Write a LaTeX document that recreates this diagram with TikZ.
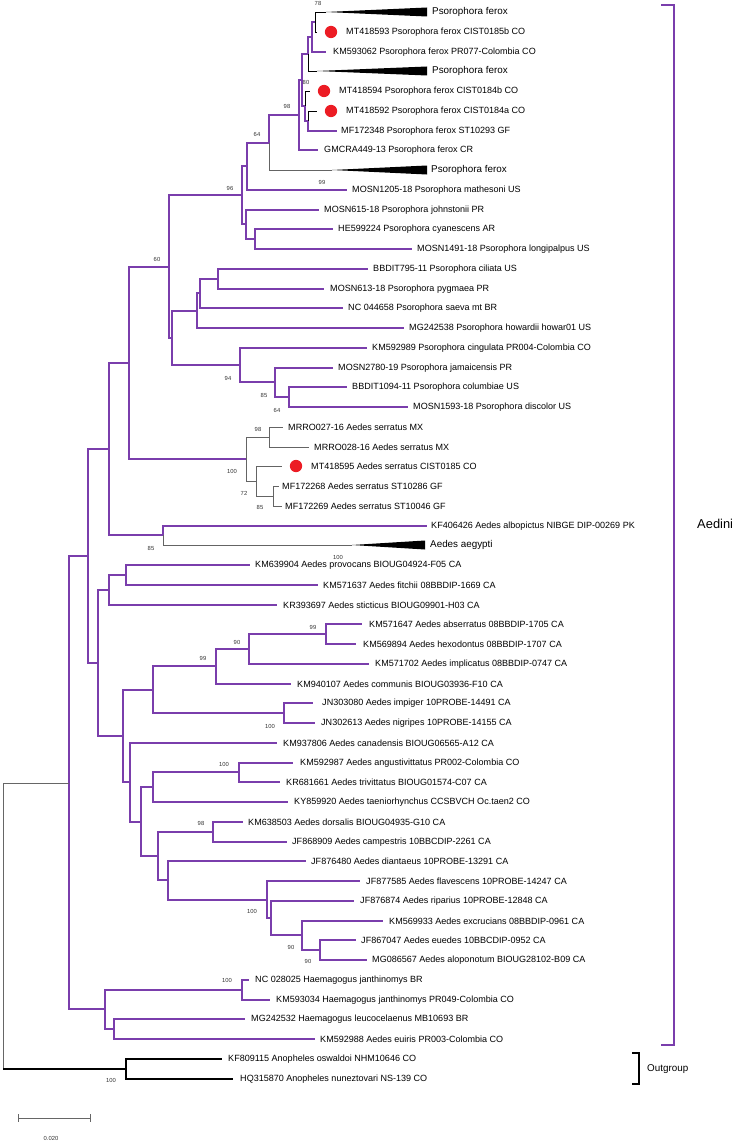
\documentclass[tikz,border=0pt]{standalone}
\usepackage{fontspec}
\setmainfont{Liberation Sans}
\definecolor{ramamorada}{RGB}{122,62,172}
\definecolor{ramagris}{RGB}{100,100,100}
\definecolor{puntorojo}{RGB}{236,28,36}
\begin{document}
\begin{tikzpicture}[
  x = 0.3mm, y = -0.3mm,
  rama/.style = {draw = ramamorada, line width = 1.6},
  ramanegra/.style = {draw = black, line width = 0.8},
  ramagrisx/.style = {draw = ramagris, line width = 0.8},
  raiz/.style = {draw = black!60, line width = 0.8},
  externo/.style = {draw = black, line width = 1.1},
  hoja/.style = {anchor = west, inner sep = 0, font = \fontsize{7.7}{9}\selectfont},
  clado/.style = {anchor = west, inner sep = 0, font = \fontsize{8.4}{10}\selectfont},
  soporte/.style = {inner sep = 0, text = black!80, font = \fontsize{5}{6}\selectfont},
  punto/.style = {circle, fill = puntorojo, inner sep = 0, minimum size = 10.5pt}
]
\useasboundingbox (0, 0) rectangle (734, 1141);
% internal nodes (x in px, y as a row number)
\foreach \nm/\x/\r in {n78/315/1.5, nAA/312/2.25, nBB/308/3.125, nGG/308/6.5, nDD/305/5.75,
  n80/302/4.4375, n98/299/6.21875, n64/269/7.609375, nHH/247/8.8046875, nJJ/255/12.5,
  nII/246/11.75, n96/242/10.2773, nK/218/14.5, nJ/200/15.25, nH/197/16.125, nM/289/20.5,
  nL/275/19.75, nI/240/18.875, nG/172/17.5, n60/169/13.8887, nO/269/22.5, nQ/273/25.5,
  nP/256/24.75, nN/246/23.625, nD/129/18.7568, nAlb/163/27.5, nB/109/23.1284,
  nT/126/29.5, nR/109/30.25, nZ/326/32.5, nY/249/33.25, nW/216/34.125, nX/284/36.5,
  nU/153/35.3125, nNN/239/39.5, nLL/153/40.25, nOO/213/42.5, nTT/320/48.5, nSS/302/47.75,
  nRR/271/46.875, nQQ/267/45.9375, nPP/168/44.969, nMM/158/43.734, nKK/141/41.992,
  nV/130/39.996, nS/123/37.654, nC/98/33.952, nA/88/28.540, nVV/242/50.5, nWW/114/52.5,
  nUU/105/51.5, nAed/69/40.02, nOut/126/54.5, raizarbol/3/47.26}
  \coordinate (\nm) at (\x, {round(12 + (\r - 1)*19.75)});
% taxa
\foreach \r/\e/\s/\txt in {2/317/346/MT418593 Psorophora ferox CIST0185b CO,
  3/326/333/KM593062 Psorophora ferox PR077-Colombia CO,
  5/310/339/MT418594 Psorophora ferox CIST0184b CO,
  6/317/346/MT418592 Psorophora ferox CIST0184a CO,
  7/337/341/MF172348 Psorophora ferox ST10293 GF,
  8/318/324/GMCRA449-13 Psorophora ferox CR,
  10/347/352/MOSN1205-18 Psorophora mathesoni US,
  11/319/324/MOSN615-18 Psorophora johnstonii PR,
  12/333/338/HE599224 Psorophora cyanescens AR,
  13/412/417/MOSN1491-18 Psorophora longipalpus US,
  14/368/373/BBDIT795-11 Psorophora ciliata US,
  15/324/330/MOSN613-18 Psorophora pygmaea PR,
  16/343/348/NC 044658 Psorophora saeva mt BR,
  17/404/409/MG242538 Psorophora howardii howar01 US,
  18/367/372/KM592989 Psorophora cingulata PR004-Colombia CO,
  19/333/338/MOSN2780-19 Psorophora jamaicensis PR,
  20/347/352/BBDIT1094-11 Psorophora columbiae US,
  21/408/413/MOSN1593-18 Psorophora discolor US,
  22/283/288/MRRO027-16 Aedes serratus MX,
  23/309/314/MRRO028-16 Aedes serratus MX,
  24/282/311/MT418595 Aedes serratus CIST0185 CO,
  25/279/282/MF172268 Aedes serratus ST10286 GF,
  26/282/285/MF172269 Aedes serratus ST10046 GF,
  27/427/431/KF406426 Aedes albopictus NIBGE DIP-00269 PK,
  29/250/255/KM639904 Aedes provocans BIOUG04924-F05 CA,
  30/318/323/KM571637 Aedes fitchii 08BBDIP-1669 CA,
  31/277/283/KR393697 Aedes sticticus BIOUG09901-H03 CA,
  32/362/369/KM571647 Aedes abserratus 08BBDIP-1705 CA,
  33/356/363/KM569894 Aedes hexodontus 08BBDIP-1707 CA,
  34/369/375/KM571702 Aedes implicatus 08BBDIP-0747 CA,
  35/291/297/KM940107 Aedes communis BIOUG03936-F10 CA,
  36/313/322/JN303080 Aedes impiger 10PROBE-14491 CA,
  37/315/321/JN302613 Aedes nigripes 10PROBE-14155 CA,
  38/277/283/KM937806 Aedes canadensis BIOUG06565-A12 CA,
  39/293/300/KM592987 Aedes angustivittatus PR002-Colombia CO,
  40/280/286/KR681661 Aedes trivittatus BIOUG01574-C07 CA,
  41/288/294/KY859920 Aedes taeniorhynchus CCSBVCH Oc.taen2 CO,
  42/243/248/KM638503 Aedes dorsalis BIOUG04935-G10 CA,
  43/287/292/JF868909 Aedes campestris 10BBCDIP-2261 CA,
  44/306/311/JF876480 Aedes diantaeus 10PROBE-13291 CA,
  45/360/366/JF877585 Aedes flavescens 10PROBE-14247 CA,
  46/354/360/JF876874 Aedes riparius 10PROBE-12848 CA,
  47/383/389/KM569933 Aedes excrucians 08BBDIP-0961 CA,
  48/356/361/JF867047 Aedes euedes 10BBCDIP-0952 CA,
  49/367/372/MG086567 Aedes aloponotum BIOUG28102-B09 CA,
  50/249/255/NC 028025 Haemagogus janthinomys BR,
  51/270/276/KM593034 Haemagogus janthinomys PR049-Colombia CO,
  52/245/251/MG242532 Haemagogus leucocelaenus MB10693 BR,
  53/315/320/KM592988 Aedes euiris PR003-Colombia CO,
  54/222/228/KF809115 Anopheles oswaldoi NHM10646 CO,
  55/233/240/HQ315870 Anopheles nuneztovari NS-139 CO}{
  \coordinate (e\r) at (\e, {round(12 + (\r - 1)*19.75)});
  \node[hoja] (t\r) at (\s, {round(12 + (\r - 1)*19.75)}) {\txt};
}
% collapsed clades
\foreach \r/\e/\f/\s/\txt in {1/326/427/432/Psorophora ferox, 4/317/427/432/Psorophora ferox,
  9/332/427/431/Psorophora ferox, 28/352/425/430/Aedes aegypti}{
  \coordinate (e\r) at (\e, {round(12 + (\r - 1)*19.75)});
  \fill (e\r) -- (\f, {round(12 + (\r - 1)*19.75) - 4.5}) -- (\f, {round(12 + (\r - 1)*19.75) + 4.5}) -- cycle;
  \node[clado] (t\r) at (\s, {round(12 + (\r - 1)*19.75)}) {\txt};
}
\foreach \r/\x in {2/331, 5/324, 6/331, 24/296}
  \node[punto] (p\r) at (\x, {round(12 + (\r - 1)*19.75)}) {};
% branches
\foreach \a/\b in {nAA/n78, nAA/e3, nBB/nAA, n80/nBB, n80/nDD, nDD/nGG, nGG/e7, n98/n80,
  n98/e8, n64/n98, nHH/n64, nHH/e10, n96/nHH, n96/nII, nII/e11, nII/nJJ, nJJ/e12, nJJ/e13,
  n60/n96, n60/nG, nG/nH, nG/nI, nH/nJ, nH/e17, nJ/nK, nJ/e16, nK/e14, nK/e15, nI/e18,
  nI/nL, nL/e19, nL/nM, nM/e20, nM/e21, nD/n60, nD/nN, nB/nD, nB/nAlb, nAlb/e27, nA/nB,
  nA/nC, nC/nR, nC/nS, nR/nT, nR/e31, nT/e29, nT/e30, nS/nU, nS/nV, nU/nW, nU/nX, nW/nY,
  nW/e35, nY/nZ, nY/e34, nZ/e32, nZ/e33, nX/e36, nX/e37, nV/e38, nV/nKK, nKK/nLL, nKK/nMM,
  nLL/nNN, nLL/e41, nNN/e39, nNN/e40, nMM/nOO, nMM/nPP, nOO/e42, nOO/e43, nPP/e44,
  nPP/nQQ, nQQ/e45, nQQ/nRR, nRR/e46, nRR/nSS, nSS/e47, nSS/nTT, nTT/e48, nTT/e49,
  nAed/nA, nAed/nUU, nUU/nVV, nUU/nWW, nVV/e50, nVV/e51, nWW/e52, nWW/e53}
  \draw[rama] (\a) |- (\b);
\foreach \a/\b in {n78/e1, n78/e2, nBB/e4, nDD/e5, nGG/e6}
  \draw[ramanegra] (\a) |- (\b);
\foreach \a/\b in {n64/e9, nAlb/e28, nN/nO, nN/nP, nO/e22, nO/e23, nP/e24, nP/nQ, nQ/e25, nQ/e26}
  \draw[ramagrisx] (\a) |- (\b);
\draw[raiz] (raizarbol) |- (nAed);
\draw[raiz] (raizarbol) -- (raizarbol |- nOut);
\draw[externo] (raizarbol |- nOut) -- (nOut);
\foreach \a/\b in {nOut/e54, nOut/e55}
  \draw[externo] (\a) |- (\b);
% bootstrap values
\foreach \x/\y/\b [count = \i] in {318/3/78, 306/82/80, 287/106/98, 257/134/64, 230/188/96,
  322/182/99, 157/259/60, 228/378/94, 264/395/85, 277/410/64, 258/429/98, 232/471/100,
  244/493/72, 260/507/85, 151/548/85, 338/557/100, 313/627/99, 237/642/90, 203/658/99,
  270/726/100, 224/764/100, 201/823/98, 252/911/100, 291/947/90, 308/961/90, 227/980/100,
  111/1080/100}
  \node[soporte] (bs\i) at (\x, \y) {\b};
% scale bar
\coordinate (escA) at (18, 1118);
\coordinate (escB) at (90, 1118);
\draw[raiz] (escA) -- (escB) (escA) ++(0, -4) -- ++(0, 8) (escB) ++(0, -4) -- ++(0, 8);
\node[soporte] (escala) at (51, 1138) {0.020};
% clade brackets
\coordinate (aedA) at (661, 5);
\coordinate (aedB) at (661, 1045);
\draw[rama] (aedA) -- ++(13, 0) |- (aedB);
\node[anchor = west, inner sep = 0, font = \fontsize{11}{13}\selectfont] (aedini) at (697, 524) {Aedini};
\coordinate (outA) at (632, 1053);
\coordinate (outB) at (632, 1084);
\draw[externo] (outA) -- ++(7, 0) |- (outB);
\node[clado] (outgroup) at (647, 1069) {Outgroup};
\end{tikzpicture}
\end{document}
